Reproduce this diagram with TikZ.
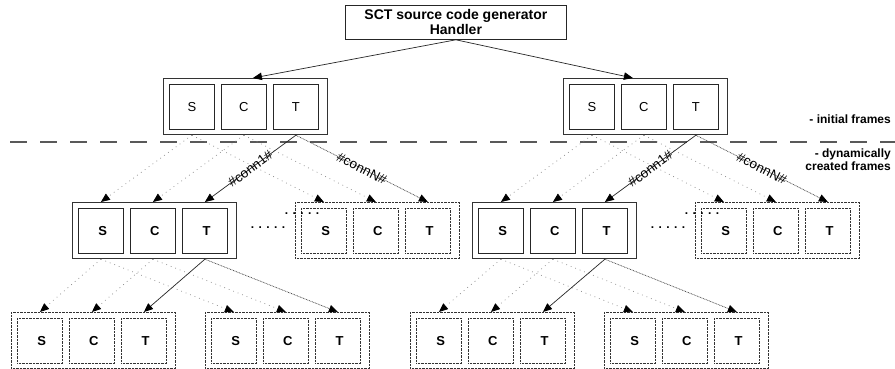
\documentclass[tikz,border=0pt]{standalone}
\usepackage{fontspec}
\setmainfont{Liberation Sans}
\usetikzlibrary{arrows.meta,calc}

\tikzset{
  box/.style={draw=black!85, line width=0.8pt, minimum width=45pt, minimum height=45pt,
              inner sep=0pt, anchor=north west, font=\fontsize{13}{15}\selectfont},
  dbox/.style={box, draw=black!80, dash pattern=on 0.7pt off 0.7pt},
  frame/.style={draw=black!80, line width=1.2pt, minimum width=164pt, minimum height=56pt,
                inner sep=0pt, anchor=north west},
  dframe/.style={frame, line width=0.8pt, dash pattern=on 0.7pt off 0.7pt},
  headstyle/.style={-{Triangle[length=9pt,width=7.5pt,color=black]}},
  solidarrow/.style={headstyle, draw=black!85, line width=0.7pt},
  darkdots/.style={headstyle, draw=black!75, line width=0.7pt, dash pattern=on 0.8pt off 0.8pt},
  faint/.style={headstyle, draw=black!45, line width=0.7pt, dash pattern=on 0.8pt off 4pt},
  conn/.style={midway, sloped, inner sep=1pt, font=\fontsize{13.5}{15}\selectfont},
  sideText/.style={font=\bfseries\fontsize{12}{13}\selectfont, align=right, anchor=east, inner sep=0pt},
  dotText/.style={font=\bfseries\fontsize{12}{14}\selectfont, inner sep=0pt},
  sepline/.style={draw=black!65, line width=2pt, dash pattern=on 17pt off 13pt}
}

% one S/C/T frame: name, x, y, frame style, box style, font switch
\newcommand\sctgroup[6]{%
  \node[#4] (#1) at (#2,#3) {};
  \node[#5] (#1-s) at ({#2+6},{#3+6}) {#6 S};
  \node[#5] (#1-c) at ({#2+58},{#3+6}) {#6 C};
  \node[#5] (#1-t) at ({#2+110},{#3+6}) {#6 T};
}

% links from a parent frame to its first and last child frame
\newcommand\sctlinks[4]{%
  \draw[faint] (#1-s.center |- #1.south) -- (#2-s.center |- #2.north);
  \draw[faint] (#1-c.center |- #1.south) -- (#2-c.center |- #2.north);
  \draw[faint] (#1-s.center |- #1.south) -- (#3-s.center |- #3.north);
  \draw[faint] (#1-c.center |- #1.south) -- (#3-c.center |- #3.north);
  \draw[solidarrow] (#1-t.center |- #1.south) -- (#2-t.center |- #2.north)
    #4{node[conn] {\#conn1\#}};
  \draw[darkdots] (#1-t.center |- #1.south) -- (#3-t.center |- #3.north)
    #4{node[conn] {\#connN\#}};
}
\newcommand\withlabel[1]{#1}
\newcommand\nolabel[1]{}

\begin{document}
\begin{tikzpicture}[x=1pt, y=-1pt]
\useasboundingbox (0,0) rectangle (895,369);
\fill[white] (0,0) rectangle (895,369);

% generator
\node[draw=black!85, line width=0.8pt, minimum width=221pt, minimum height=34pt,
      inner sep=0pt, anchor=north west, align=center,
      font=\bfseries\fontsize{14}{15}\selectfont] (gen) at (345,5)
      {SCT source code generator\\Handler};

% initial frames
\sctgroup{ia}{163}{78}{frame}{box}{}
\sctgroup{ib}{563}{78}{frame}{box}{}

\draw[solidarrow] (gen.south) -- ($(ia-c.center |- ia.north)+(9,0)$);
\draw[solidarrow] (gen.south) -- ($(ib-c.center |- ib.north)+(-11,0)$);

% separator between initial and dynamic frames
\coordinate (sepL) at (10,142);
\coordinate (sepR) at (895,142);
\draw[sepline] (sepL) -- (sepR);

\node[sideText] (lblInit) at (891,119) {- initial frames};
\node[sideText] (lblDyn) at (891,160) {- dynamically\\created frames};

% dynamically created frames, second level
\sctgroup{da}{72}{202}{frame}{box}{\bfseries}
\sctgroup{db}{295}{202}{dframe}{dbox}{\bfseries}
\sctgroup{dc}{472}{202}{frame}{box}{\bfseries}
\sctgroup{dd}{695}{202}{dframe}{dbox}{\bfseries}

\node[dotText] (dotsA1) at (268,228) {. . . . .};
\node[dotText] (dotsA2) at (302,214) {. . . . .};
\node[dotText] (dotsB1) at (668,228) {. . . . .};
\node[dotText] (dotsB2) at (702,214) {. . . . .};

% third level
\sctgroup{ea}{11}{312}{dframe}{dbox}{\bfseries}
\sctgroup{eb}{205}{312}{dframe}{dbox}{\bfseries}
\sctgroup{ec}{410}{312}{dframe}{dbox}{\bfseries}
\sctgroup{ed}{604}{312}{dframe}{dbox}{\bfseries}

% connections
\sctlinks{ia}{da}{db}{\withlabel}
\sctlinks{ib}{dc}{dd}{\withlabel}
\sctlinks{da}{ea}{eb}{\nolabel}
\sctlinks{dc}{ec}{ed}{\nolabel}
\end{tikzpicture}
\end{document}
